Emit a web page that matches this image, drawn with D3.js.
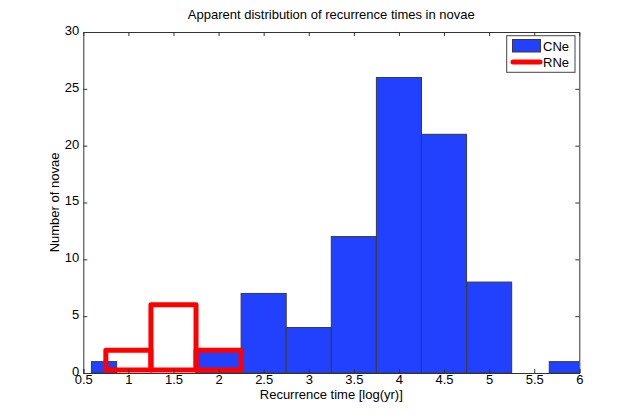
<!DOCTYPE html>
<html><head><meta charset="utf-8">
<script src="https://cdn.jsdelivr.net/npm/d3@7"></script>
<style>body{margin:0;background:#fff;} text{font-family:"Liberation Sans",Arial,sans-serif;}</style>
</head><body><svg id="c" width="640" height="418"></svg>
<script>
const cneX0 = [0.59, 1.75, 2.25, 2.75, 3.25, 3.75, 4.25, 4.75, 5.667];
const cneX1 = [0.87, 2.25, 2.75, 3.25, 3.75, 4.25, 4.75, 5.25, 6.25];
const cneCounts = [1, 2, 7, 4, 12, 26, 21, 8, 1];
const rneX0 = [0.75, 1.25, 1.75];
const rneX1 = [1.25, 1.75, 2.25];
const rneCounts = [2, 6, 2];
const xTicks = [0.5, 1, 1.5, 2, 2.5, 3, 3.5, 4, 4.5, 5, 5.5, 6];
const yTicks = [0, 5, 10, 15, 20, 25, 30];

const L = 83.3, R = 579.3, T = 32, B = 373;
const svg = d3.select("#c");
const x = d3.scaleLinear().domain([0.5, 6]).range([L, R]);
const y = d3.scaleLinear().domain([0, 30]).range([B, T]);

svg.append("defs").append("clipPath").attr("id", "clip")
  .append("rect").attr("x", L).attr("y", T).attr("width", R - L).attr("height", B - T);

const g = svg.append("g").attr("clip-path", "url(#clip)");
const cne = cneCounts.map((v, i) => ({x0: cneX0[i], x1: cneX1[i], v}));
const rne = rneCounts.map((v, i) => ({x0: rneX0[i], x1: rneX1[i], v}));

g.selectAll("rect.cne").data(cne).join("rect").attr("class", "cne")
  .attr("x", d => x(d.x0)).attr("width", d => x(d.x1) - x(d.x0))
  .attr("y", d => y(d.v)).attr("height", d => y(0) - y(d.v))
  .attr("fill", "#2141ff").attr("stroke", "#3a3a3a").attr("stroke-width", 1);

g.selectAll("rect.rne").data(rne).join("rect").attr("class", "rne")
  .attr("x", d => x(d.x0)).attr("width", d => x(d.x1) - x(d.x0))
  .attr("y", d => y(d.v)).attr("height", d => y(0) - y(d.v) - 3)
  .attr("fill", "none").attr("stroke", "#ff0000").attr("stroke-width", 5)
  .attr("stroke-linejoin", "round");

// axes box
const axColor = "#333";
const xb = svg.append("g").attr("transform", `translate(0,${B})`)
  .call(d3.axisBottom(x).tickValues(xTicks).tickSize(-4).tickPadding(2).tickFormat(d3.format("")));
const xt = svg.append("g").attr("transform", `translate(0,${T})`)
  .call(d3.axisTop(x).tickValues(xTicks).tickSize(-4).tickFormat(""));
const yl = svg.append("g").attr("transform", `translate(${L},0)`)
  .call(d3.axisLeft(y).tickValues(yTicks).tickSize(-4).tickPadding(4));
const yr = svg.append("g").attr("transform", `translate(${R},0)`)
  .call(d3.axisRight(y).tickValues(yTicks).tickSize(-4).tickFormat(""));
[xb, xt, yl, yr].forEach(a => {
  a.select(".domain").attr("stroke", axColor);
  a.selectAll(".tick line").attr("stroke", axColor);
  a.selectAll("text").attr("fill", "#000").style("font-size", "13px").style("font-family", "Liberation Sans, Arial, sans-serif");
});
yl.selectAll(".tick text").attr("dy", "0.18em");
xt.selectAll(".tick").filter(d => d === 0.5 || d === 6).remove();
yr.selectAll(".tick").filter(d => d === 0 || d === 30).remove();

svg.append("text").attr("x", (L + R) / 2).attr("y", 19).attr("text-anchor", "middle")
  .style("font-size", "13px").text("Apparent distribution of recurrence times in novae");
svg.append("text").attr("x", (L + R) / 2).attr("y", 399).attr("text-anchor", "middle")
  .style("font-size", "13px").text("Recurrence time [log(yr)]");
svg.append("text").attr("transform", `translate(59,${(T + B) / 2}) rotate(-90)`).attr("text-anchor", "middle")
  .style("font-size", "13px").text("Number of novae");

// legend
const lg = svg.append("g");
lg.append("rect").attr("x", 506.7).attr("y", 35.7).attr("width", 68.3).attr("height", 36.6)
  .attr("fill", "#fff").attr("stroke", "#444").attr("stroke-width", 1);
lg.append("rect").attr("x", 512.5).attr("y", 39.5).attr("width", 28).attr("height", 12.5)
  .attr("fill", "#2141ff").attr("stroke", "#3a3a3a");
lg.append("line").attr("x1", 513).attr("x2", 540).attr("y1", 62).attr("y2", 62)
  .attr("stroke", "#ff0000").attr("stroke-width", 5).attr("stroke-linecap", "round");
lg.append("text").attr("x", 543).attr("y", 50.5).style("font-size", "13px").text("CNe");
lg.append("text").attr("x", 543).attr("y", 67).style("font-size", "13px").text("RNe");
</script></body></html>
